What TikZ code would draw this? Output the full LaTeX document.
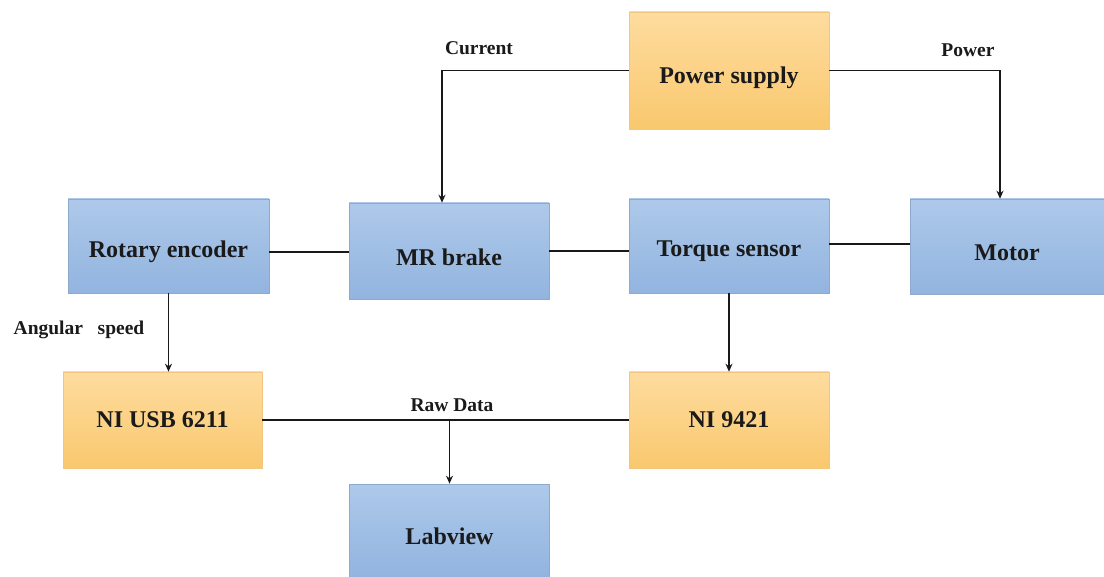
\documentclass[tikz,border=0pt]{standalone}
\usepackage{fontspec}
\setmainfont{Liberation Serif}
\usetikzlibrary{arrows.meta}
\definecolor{bluetop}{HTML}{AEC9EA}
\definecolor{bluebot}{HTML}{92B4DF}
\definecolor{bluebd}{HTML}{8FA9CC}
\definecolor{orgtop}{HTML}{FEDC9F}
\definecolor{orgbot}{HTML}{F9C86E}
\definecolor{orgbd}{HTML}{F2C680}
\definecolor{txt}{HTML}{1A1A1A}
\tikzset{
  box/.style={rectangle, inner sep=0pt},
  bluebox/.style={box, top color=bluetop, bottom color=bluebot, draw=bluebd, line width=0.6pt},
  orgbox/.style={box, top color=orgtop, bottom color=orgbot, draw=orgbd, line width=0.6pt},
  boxtxt/.style={font=\fontsize{24}{28}\selectfont\bfseries, text=txt, inner sep=0pt},
  lab/.style={font=\fontsize{19.5}{23}\selectfont\bfseries, text=txt, inner sep=0pt},
  conn/.style={line width=1.8pt, draw=black!90},
  arr/.style={conn, -{Stealth[length=8pt,width=7pt]}}
}
\begin{document}
\begin{tikzpicture}[x=1pt,y=-1pt]
\useasboundingbox (0,0) rectangle (1104,577);
\fill[white] (0,0) rectangle (1104,577);
\node[orgbox, minimum width=200pt, minimum height=117pt] (ps) at (729,70.5) {};
\node[bluebox, minimum width=201pt, minimum height=94pt] (re) at (168.5,246) {};
\node[bluebox, minimum width=200pt, minimum height=96pt] (mr) at (449,251) {};
\node[bluebox, minimum width=200pt, minimum height=94pt] (ts) at (729,246) {};
\node[bluebox, minimum width=194pt, minimum height=95pt] (mo) at (1007,246.5) {};
\node[orgbox, minimum width=199pt, minimum height=96pt] (ni1) at (162.5,420) {};
\node[orgbox, minimum width=200pt, minimum height=96pt] (ni2) at (729,420) {};
\node[bluebox, minimum width=200pt, minimum height=93pt] (lv) at (449.5,530.5) {};

\node[boxtxt] (pst) at ([yshift=-7.5pt]ps.center) {Power supply};
\node[boxtxt] (ret) at ([yshift=-6pt]re.center) {Rotary encoder};
\node[boxtxt] (mrt) at ([yshift=-6pt]mr.center) {MR brake};
\node[boxtxt] (tst) at ([yshift=-5pt]ts.center) {Torque sensor};
\node[boxtxt] (mot) at ([yshift=-6.5pt]mo.center) {Motor};
\node[boxtxt] (ni1t) at ([yshift=0pt]ni1.center) {NI USB 6211};
\node[boxtxt] (ni2t) at ([yshift=0pt]ni2.center) {NI 9421};
\node[boxtxt] (lvt) at ([yshift=-5.5pt]lv.center) {Labview};

\coordinate (cur) at ([xshift=-7pt]mr.north);
\coordinate (pow) at ([xshift=-7pt]mo.north);
\draw[arr] (ps.west) -| (cur);
\draw[arr] (ps.east) -| (pow);
\draw[conn] ([yshift=-6pt]re.east) -- ([yshift=-6pt]re.east -| mr.west);
\draw[conn] (mr.east) -- (mr.east -| ts.west);
\draw[conn] ([yshift=2pt]ts.east) -- ([yshift=2pt]ts.east -| mo.west);
\draw[arr] (re.south) -- (re.south |- ni1.north);
\draw[arr] (ts.south) -- (ts.south |- ni2.north);
\draw[conn] (ni1.east) -- (ni2.west);
\coordinate (j) at (lv.north |- ni1.east);
\draw[arr] (j) -- (lv.north);

\node[lab] (lcur) at (479,48) {Current};
\node[lab] (lpow) at (968,50) {Power};
\node[lab] (lang) at (79,330) {Angular\hspace{0.5em} speed};
\node[lab] (lraw) at (452,405) {Raw Data};
\end{tikzpicture}
\end{document}
